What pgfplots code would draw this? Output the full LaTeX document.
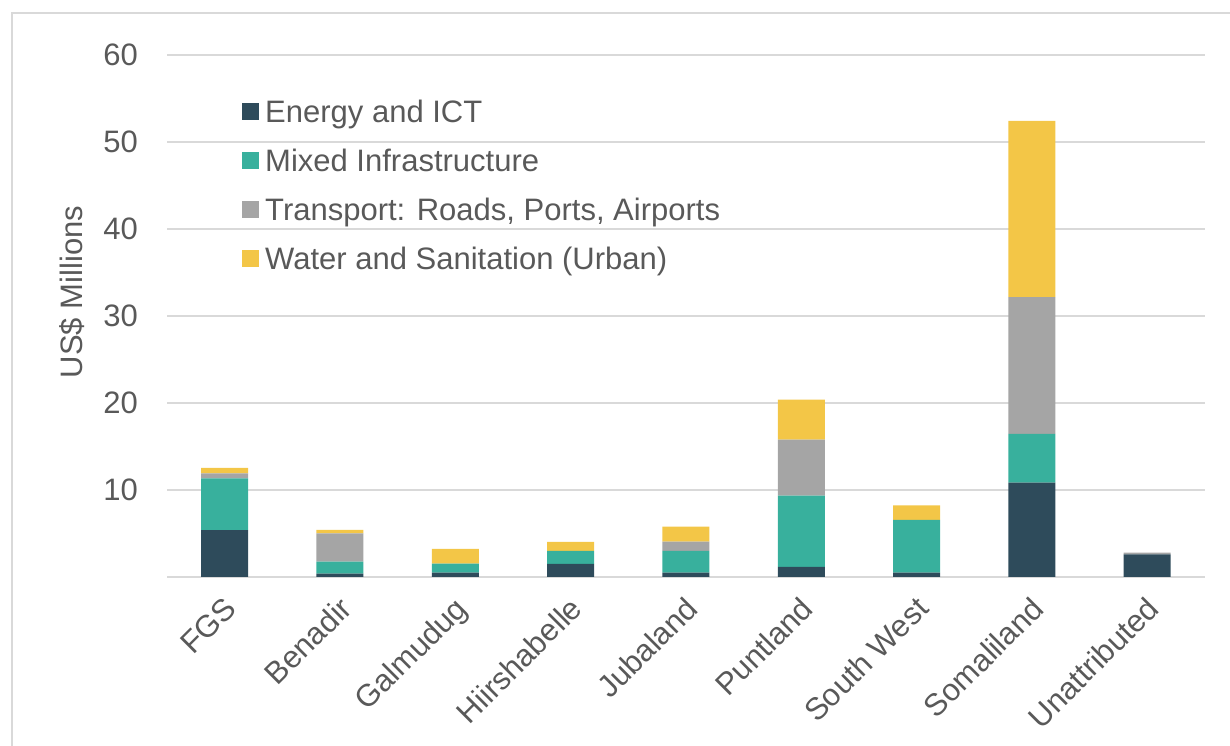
\documentclass[border=0pt]{standalone}
\usepackage{fontspec}
\setmainfont{Liberation Sans}
\usepackage{pgfplots}
\pgfplotsset{compat=1.18}

\definecolor{txtgray}{HTML}{595959}
\definecolor{gridgray}{HTML}{D9D9D9}
\definecolor{energy}{HTML}{2E4B5B}
\definecolor{mixed}{HTML}{38B09D}
\definecolor{transport}{HTML}{A5A5A5}
\definecolor{water}{HTML}{F3C647}

\newcommand{\chartfont}{\fontsize{31bp}{37bp}\selectfont}

\begin{document}
\begin{tikzpicture}
\useasboundingbox (0,0) rectangle (1230bp,746bp);
\draw[gridgray, line width=2bp] (12bp,0) -- (12bp,733bp) -- (1230bp,733bp);
\begin{axis}[
  at={(167bp,169bp)}, anchor=south west,
  scale only axis, width=1038bp, height=522bp,
  xmin=-0.5, xmax=8.5, ymin=0, ymax=60,
  ybar stacked, bar width=47bp,
  axis line style={draw=none}, tick style={draw=none},
  ymajorgrids, grid style={gridgray, line width=2bp},
  ytick={0,10,...,60}, yticklabels={,10,20,30,40,50,60},
  xtick={0,...,8},
  xticklabels={FGS,Benadir,Galmudug,Hiirshabelle,Jubaland,Puntland,South West,Somaliland,Unattributed},
  yticklabel style={anchor=east, inner sep=0pt, xshift=-29bp, font=\chartfont, text=txtgray},
  xticklabel style={xshift=8bp, yshift=-28bp, rotate=45, anchor=east, inner sep=0pt,
    text height=22bp, text depth=6bp, font=\chartfont, text=txtgray},
  ylabel={US\$ Millions},
  ylabel style={at={(axis description cs:-0.0915,0.546)}, anchor=center, font=\chartfont, text=txtgray},
  legend cell align=left,
  legend style={at={(axis description cs:0.0723,0.9138)}, anchor=north west,
    draw=none, fill=none, inner sep=0pt, row sep=21bp, column sep=6bp,
    font=\chartfont, text=txtgray,
    nodes={inner sep=0pt, text height=22bp, text depth=6bp}},
  legend image code/.code={\fill[#1] (0bp,-6bp) rectangle (17bp,11bp);},
]
\addplot[fill=energy, draw=none] coordinates {
  (0,5.4) (1,0.38) (2,0.5) (3,1.5) (4,0.5) (5,1.15) (6,0.5) (7,10.86) (8,2.61)};
\addplot[fill=mixed, draw=none] coordinates {
  (0,5.95) (1,1.4) (2,1.03) (3,1.5) (4,2.5) (5,8.2) (6,6.07) (7,5.6) (8,0)};
\addplot[fill=transport, draw=none] coordinates {
  (0,0.55) (1,3.23) (2,0) (3,0) (4,1.07) (5,6.45) (6,0) (7,15.7) (8,0.19)};
\addplot[fill=water, draw=none] coordinates {
  (0,0.65) (1,0.42) (2,1.7) (3,1.04) (4,1.73) (5,4.6) (6,1.65) (7,20.26) (8,0)};
\legend{Energy and ICT, Mixed Infrastructure, {Transport: Roads, Ports, Airports}, Water and Sanitation (Urban)}
\end{axis}
\end{tikzpicture}
\end{document}
